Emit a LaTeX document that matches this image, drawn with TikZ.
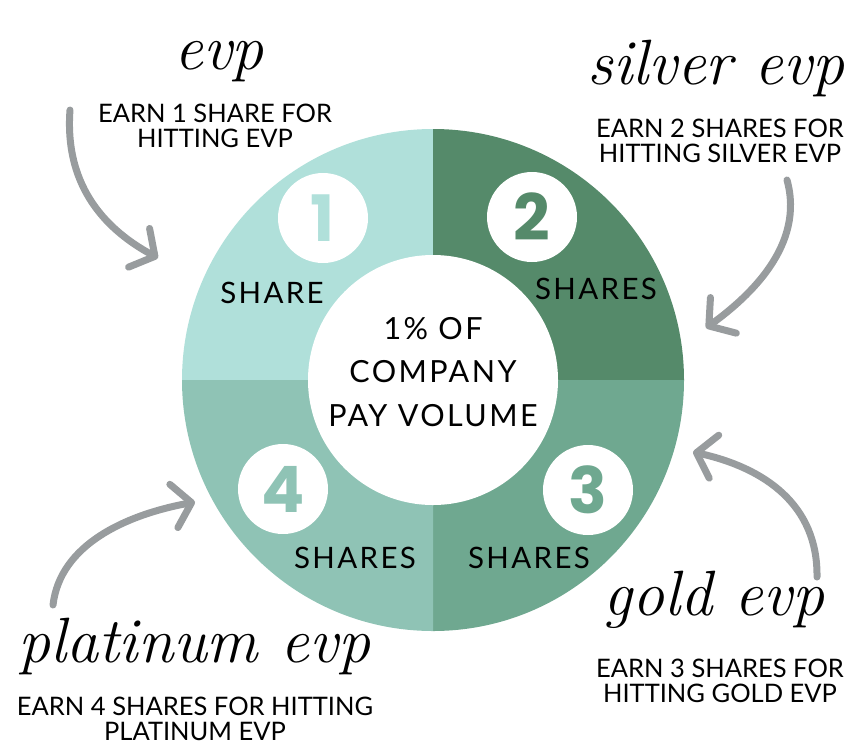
\documentclass[tikz,border=0pt]{standalone}
\usepackage{fontspec}
\usepackage{tikz}
\usetikzlibrary{arrows.meta}
\newfontfamily\latofont{Lato}
\newfontfamily\ringfont{Lato}[LetterSpace=8]
\newfontfamily\digitfont{Poppins Bold}
\definecolor{qa}{HTML}{B0E0DA}
\definecolor{qb}{HTML}{558A6A}
\definecolor{qc}{HTML}{6FA890}
\definecolor{qd}{HTML}{8FC3B5}
\definecolor{curlgrey}{HTML}{989C9E}

\begin{document}
\begin{tikzpicture}[x=1pt,y=-1pt,
    caption/.style={font=\latofont\fontsize{25.5}{25}\selectfont,align=center,inner sep=0pt},
    script/.style={font=\itshape\fontsize{64}{64}\selectfont,inner sep=0pt},
    ringlabel/.style={font=\ringfont\fontsize{29.5}{29.5}\selectfont,anchor=base,inner sep=0pt},
    numdisc/.style={circle,fill=white,minimum size=90pt,inner sep=0pt,
                    font=\digitfont\fontsize{64}{64}\selectfont},
    curl/.style={draw=curlgrey,line width=7pt,line cap=round,
                 -{Straight Barb[length=18pt,width=44pt,round]}}]
    \useasboundingbox (0,0) rectangle (854,748);

    \coordinate (C) at (433,380);

    % quarters of the ring
    \fill[qa] (C) -- ++(180:251) arc[start angle=180,end angle=270,radius=251] -- cycle;
    \fill[qb] (C) -- ++(270:251) arc[start angle=270,end angle=360,radius=251] -- cycle;
    \fill[qc] (C) -- ++(0:251) arc[start angle=0,end angle=90,radius=251] -- cycle;
    \fill[qd] (C) -- ++(90:251) arc[start angle=90,end angle=180,radius=251] -- cycle;
    \fill[white] (C) circle[radius=125];

    \node[align=center,inner sep=0pt,
          font=\ringfont\fontsize{30.5}{43.5}\selectfont] (centre) at (433,372)
          {1\% OF\\COMPANY\\PAY VOLUME};

    % numbered discs
    \node[numdisc,text=qa] (n1) at (323,218) {1};
    \node[numdisc,text=qb] (n2) at (532,217) {2};
    \node[numdisc,text=qc] (n3) at (588,490) {3};
    \node[numdisc,text=qd] (n4) at (283,489) {4};

    \node[ringlabel] (l1) at (272,303) {SHARE};
    \node[ringlabel] (l2) at (596,299) {SHARES};
    \node[ringlabel] (l3) at (529,568) {SHARES};
    \node[ringlabel] (l4) at (355,568) {SHARES};

    % levels
    \node[script] (s1) at (219,62) {evp};
    \node[caption] (t1) at (215,126) {EARN 1 SHARE FOR\\HITTING EVP};

    \node[script] (s2) at (716,68) {silver evp};
    \node[caption] (t2) at (720,141) {EARN 2 SHARES FOR\\HITTING SILVER EVP};

    \node[script] (s3) at (714,600) {gold evp};
    \node[caption] (t3) at (720,681) {EARN 3 SHARES FOR\\HITTING GOLD EVP};

    \node[script] (s4) at (194,646) {platinum evp};
    \node[caption] (t4) at (195,719) {EARN 4 SHARES FOR HITTING\\PLATINUM EVP};

    % curly arrows
    \coordinate (a1s) at (70,110);  \coordinate (a1e) at (158,258);
    \coordinate (a2s) at (787,180); \coordinate (a2e) at (706,328);
    \coordinate (a3s) at (817,577); \coordinate (a3e) at (693,452);
    \coordinate (a4s) at (53,605);  \coordinate (a4e) at (195,502);

    \draw[curl] (a1s) .. controls (64,190) and (110,232) .. (a1e);
    \draw[curl] (a2s) .. controls (805,245) and (750,296) .. (a2e);
    \draw[curl] (a3s) .. controls (818,505) and (765,468) .. (a3e);
    \draw[curl] (a4s) .. controls (60,545) and (125,515) .. (a4e);
\end{tikzpicture}
\end{document}
